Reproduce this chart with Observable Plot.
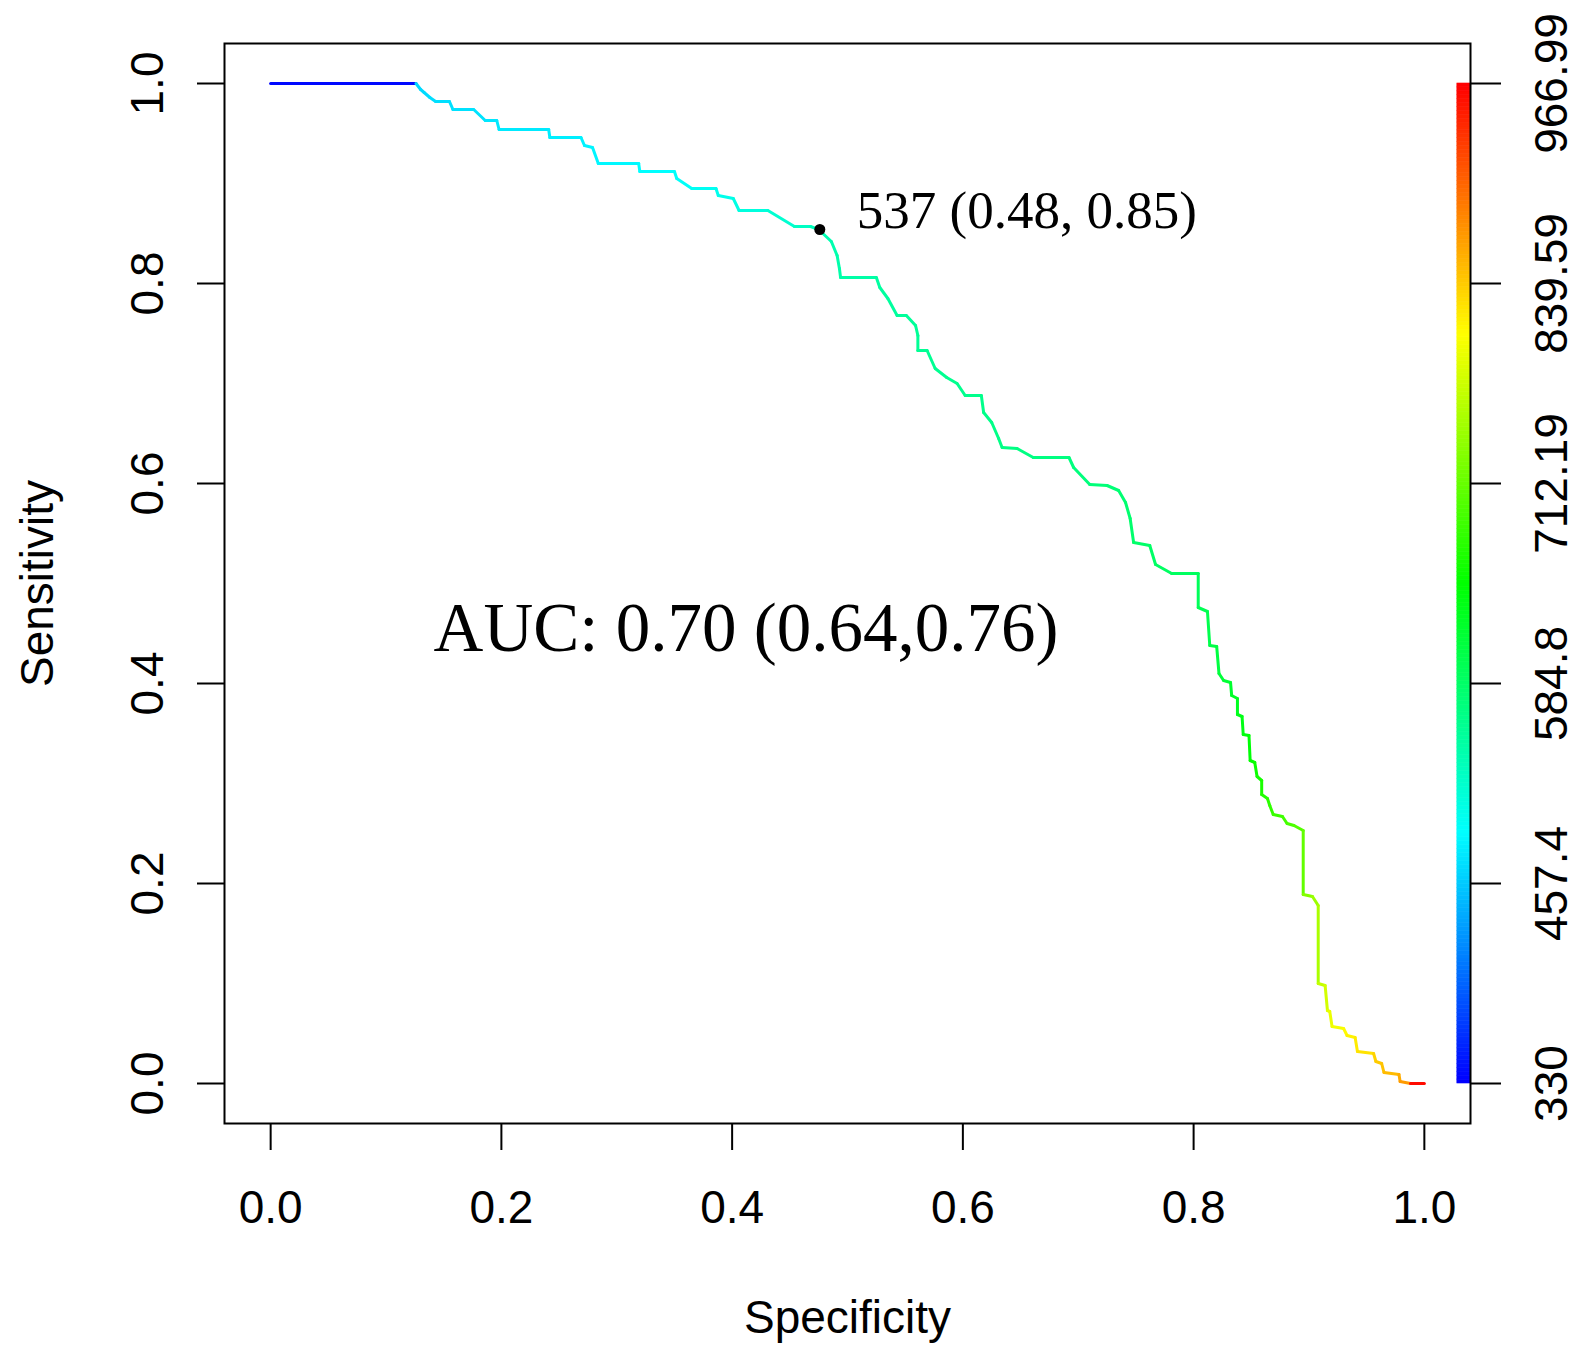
<!DOCTYPE html>
<html>
<head>
<meta charset="utf-8">
<script src="https://cdn.jsdelivr.net/npm/d3@7"></script>
<script src="https://cdn.jsdelivr.net/npm/@observablehq/plot@0.6"></script>
<style>
  html, body { margin: 0; padding: 0; background: #ffffff; }
  #chart svg { display: block; }
</style>
</head>
<body>
<div id="chart"></div>
<script>
// ROC curve points (specificity, sensitivity, cutoff)
const specificity = [
  0.000, 0.126, 0.130, 0.133, 0.138, 0.143, 0.155, 0.158, 0.176, 0.186,
  0.196, 0.198, 0.241, 0.242, 0.269, 0.272, 0.279, 0.284, 0.319, 0.320,
  0.350, 0.352, 0.365, 0.386, 0.388, 0.401, 0.406, 0.431, 0.454, 0.468,
  0.475, 0.486, 0.491, 0.493, 0.494, 0.525, 0.528, 0.535, 0.543, 0.551,
  0.559, 0.561, 0.561, 0.569, 0.576, 0.586, 0.595, 0.602, 0.616, 0.618,
  0.625, 0.631, 0.634, 0.647, 0.661, 0.692, 0.696, 0.710, 0.725, 0.735,
  0.741, 0.745, 0.748, 0.762, 0.767, 0.781, 0.804, 0.804, 0.812, 0.814,
  0.820, 0.822, 0.826, 0.832, 0.833, 0.838, 0.838, 0.842, 0.843, 0.848,
  0.849, 0.853, 0.855, 0.859, 0.859, 0.864, 0.866, 0.869, 0.877, 0.881,
  0.887, 0.895, 0.895, 0.903, 0.908, 0.908, 0.914, 0.916, 0.918, 0.920,
  0.930, 0.933, 0.940, 0.942, 0.956, 0.958, 0.963, 0.965, 0.978, 0.979,
  0.988, 1.000
];
const sensitivity = [
  1.000, 1.000, 0.994, 0.991, 0.986, 0.982, 0.982, 0.974, 0.974, 0.963,
  0.963, 0.954, 0.954, 0.946, 0.946, 0.938, 0.936, 0.920, 0.920, 0.912,
  0.912, 0.905, 0.895, 0.895, 0.888, 0.885, 0.873, 0.873, 0.857, 0.857,
  0.854, 0.842, 0.828, 0.815, 0.806, 0.806, 0.796, 0.785, 0.768, 0.768,
  0.758, 0.748, 0.733, 0.733, 0.715, 0.706, 0.700, 0.688, 0.688, 0.671,
  0.661, 0.645, 0.636, 0.635, 0.626, 0.626, 0.616, 0.599, 0.598, 0.593,
  0.581, 0.565, 0.541, 0.538, 0.519, 0.510, 0.510, 0.476, 0.472, 0.438,
  0.437, 0.410, 0.403, 0.401, 0.388, 0.385, 0.369, 0.367, 0.349, 0.348,
  0.323, 0.321, 0.307, 0.303, 0.289, 0.285, 0.278, 0.269, 0.267, 0.260,
  0.258, 0.253, 0.189, 0.187, 0.178, 0.100, 0.098, 0.073, 0.072, 0.057,
  0.055, 0.048, 0.046, 0.032, 0.030, 0.022, 0.020, 0.011, 0.009, 0.002,
  0.000, 0.000
];
const cutoff = [
  335, 465, 466, 467, 468, 469, 470, 471, 472, 474,
  475, 476, 478, 479, 481, 482, 483, 485, 488, 489,
  492, 493, 496, 500, 502, 506, 510, 518, 526, 532,
  537, 540, 542, 543, 544, 548, 549, 550, 552, 553,
  554, 555, 556, 557, 558, 559, 560, 561, 562, 563,
  564, 565, 566, 567, 568, 570, 571, 573, 575, 577,
  579, 581, 583, 585, 587, 589, 592, 596, 600, 604,
  608, 612, 616, 620, 624, 628, 632, 636, 640, 645,
  650, 655, 660, 665, 670, 675, 680, 685, 690, 695,
  700, 710, 730, 745, 755, 770, 780, 790, 795, 800,
  810, 815, 820, 825, 835, 840, 845, 850, 860, 870,
  960, 967
];

// Axes and colour key
const xTicks = [0, 0.2, 0.4, 0.6, 0.8, 1.0];
const yTicks = [0, 0.2, 0.4, 0.6, 0.8, 1.0];
const cutoffLabels = ["330", "457.4", "584.8", "712.19", "839.59", "966.99"];
const cutoffMin = 330, cutoffMax = 966.99;

// Best threshold annotation and AUC
const best = {spec: 0.476, sens: 0.854, label: "537 (0.48, 0.85)"};
const aucText = "AUC: 0.70 (0.64,0.76)";

// Build segments for the colourised curve
const pts = specificity.map((s, i) => ({spec: s, sens: sensitivity[i], c: cutoff[i]}));
const segs = pts.slice(0, -1).map((p, i) => ({
  x1: p.spec, y1: p.sens, x2: pts[i + 1].spec, y2: pts[i + 1].sens, c: p.c
}));

// Colour key ramp (legend)
const N = 256;
const ramp = d3.range(N).map(i => ({
  y1: i / N, y2: (i + 1) / N, c: cutoffMin + (i / (N - 1)) * (cutoffMax - cutoffMin)
}));

const sans = "'Liberation Sans', Arial, Helvetica, sans-serif";
const serif = "'Liberation Serif', 'Times New Roman', Times, serif";
const fmt = d3.format(".1f");

const chart = Plot.plot({
  width: 1584,
  height: 1346,
  marginLeft: 224,
  marginRight: 114,
  marginTop: 43,
  marginBottom: 223,
  style: {background: "#ffffff", fontFamily: sans, color: "black", overflow: "visible"},
  x: {domain: [-0.04, 1.04]},
  y: {domain: [-0.04, 1.04]},
  color: {
    type: "linear",
    domain: [cutoffMin, cutoffMax],
    interpolate: (t) => d3.hsl(240 * (1 - t), 1, 0.5).formatHex()
  },
  marks: [
    // colour key
    Plot.rect(ramp, {x1: 1.0286, x2: 1.04, y1: "y1", y2: "y2", fill: "c", stroke: "c", strokeWidth: 0.6}),
    // curve
    Plot.link(segs, {x1: "x1", y1: "y1", x2: "x2", y2: "y2", stroke: "c", strokeWidth: 3, strokeLinecap: "round"}),
    // best threshold point
    Plot.dot([best], {x: "spec", y: "sens", r: 5.5, fill: "black"}),
    Plot.text([best], {x: 0.508, y: 0.872, text: "label", textAnchor: "start", fontSize: 53, fontFamily: serif, fill: "black"}),
    Plot.text([aucText], {x: 0.412, y: 0.455, text: d => d, fontSize: 69, fontFamily: serif, fill: "black"}),
    // frame
    Plot.frame({stroke: "black", strokeWidth: 2}),
    // bottom axis
    Plot.axisX({ticks: xTicks, tickSize: 27, tickPadding: 40, tickFormat: fmt, fontSize: 46, strokeWidth: 2, label: null}),
    // left axis ticks + rotated labels
    Plot.axisY({anchor: "left", ticks: yTicks, tickSize: 27, tickFormat: () => "", strokeWidth: 2, label: null}),
    Plot.text(yTicks, {y: d => d, text: d => fmt(d), frameAnchor: "left", textAnchor: "middle", lineAnchor: "middle", dx: -76, rotate: -90, fontSize: 46, fill: "black"}),
    // right colour-key axis
    Plot.axisY({anchor: "right", ticks: yTicks, tickSize: 30, tickFormat: () => "", strokeWidth: 2, label: null}),
    Plot.text(yTicks, {y: d => d, text: (d, i) => cutoffLabels[i], frameAnchor: "right", textAnchor: "middle", lineAnchor: "middle", dx: 82, rotate: -90, fontSize: 46, fill: "black"}),
    // axis titles
    Plot.text(["Specificity"], {frameAnchor: "bottom", textAnchor: "middle", lineAnchor: "middle", dy: 195, text: d => d, fontSize: 46, fill: "black"}),
    Plot.text(["Sensitivity"], {frameAnchor: "left", textAnchor: "middle", lineAnchor: "middle", dx: -186, rotate: -90, text: d => d, fontSize: 46, fill: "black"})
  ]
});

document.getElementById("chart").appendChild(chart);
</script>
</body>
</html>
